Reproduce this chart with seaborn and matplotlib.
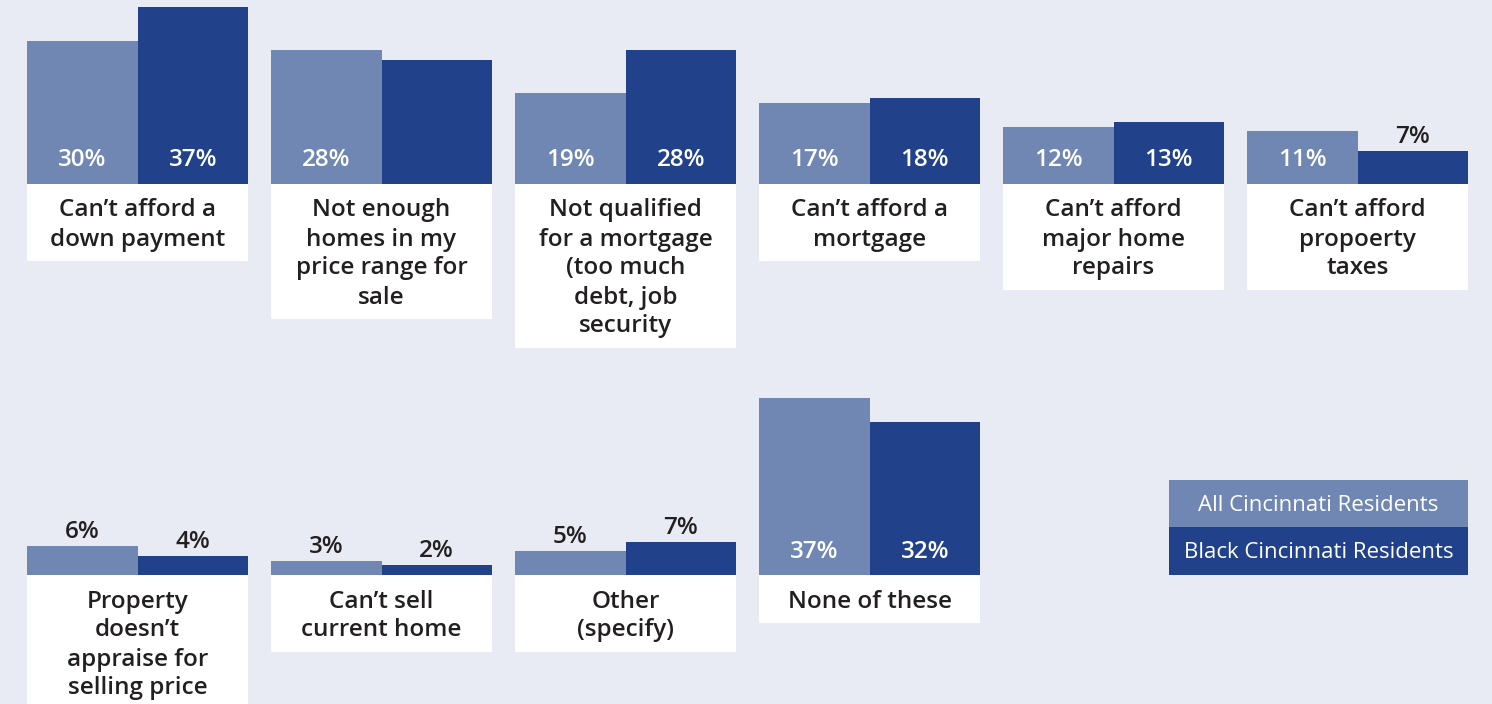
import matplotlib
matplotlib.use("Agg")
import matplotlib.pyplot as plt
from matplotlib.patches import Rectangle
import pandas as pd
import seaborn as sns

# ---- data ----
groups = ["All Cincinnati Residents", "Black Cincinnati Residents"]

reasons_top = [
    "Can’t afford a\ndown payment",
    "Not enough\nhomes in my\nprice range for\nsale",
    "Not qualified\nfor a mortgage\n(too much\ndebt, job\nsecurity",
    "Can’t afford a\nmortgage",
    "Can’t afford\nmajor home\nrepairs",
    "Can’t afford\npropoerty\ntaxes",
]
all_top = [30, 28, 19, 17, 12, 11]
black_top = [37, 26, 28, 18, 13, 7]
black_top_shown = [True, False, True, True, True, True]

reasons_bottom = [
    "Property\ndoesn’t\nappraise for\nselling price",
    "Can’t sell\ncurrent home",
    "Other\n(specify)",
    "None of these",
]
all_bottom = [6, 3, 5, 37]
black_bottom = [4, 2, 7, 32]

LIGHT = "#7087b3"
DARK = "#21418a"
BG = "#e8ebf3"
INK = "#231f20"

sns.set_theme(style="white")
plt.rcParams["font.family"] = ["Open Sans", "DejaVu Sans"]

W, H = 1492, 704
PX = 1 / 4.78          # percent per pixel
GROUP_W = 221 / 244    # width of a bar pair in category units

fig = plt.figure(figsize=(W / 100, H / 100), dpi=100, facecolor=BG)


def draw_row(ax, reasons, vals_all, vals_black, shown_black, above_px, below_px):
    df = pd.DataFrame({
        "reason": reasons * 2,
        "group": [groups[0]] * len(reasons) + [groups[1]] * len(reasons),
        "value": list(vals_all) + list(vals_black),
    })
    sns.barplot(data=df, x="reason", y="value", hue="group", order=reasons,
                hue_order=groups, palette=[LIGHT, DARK], saturation=1,
                width=GROUP_W, linewidth=0, errorbar=None, legend=False, ax=ax)

    shown = [[True] * len(reasons), shown_black]
    for ci, cont in enumerate(ax.containers):
        for bi, bar in enumerate(cont):
            if not shown[ci][bi]:
                continue
            v = bar.get_height()
            x = bar.get_x() + bar.get_width() / 2
            if v >= 10:
                ax.text(x, 23.5 * PX, f"{v:.0f}%", ha="center", va="center",
                        color="white", fontsize=17.5, fontweight="semibold")
            else:
                ax.text(x, v + 14 * PX, f"{v:.0f}%", ha="center", va="center",
                        color=INK, fontsize=17.5, fontweight="semibold")

    # white label boxes under each pair
    for i, lab in enumerate(reasons):
        lines = lab.split("\n")
        box_h = (48 + 29 * (len(lines) - 1)) * PX
        ax.add_patch(Rectangle((i - GROUP_W / 2, -box_h), GROUP_W, box_h,
                               facecolor="white", edgecolor="none"))
        for k, line in enumerate(lines):
            ax.text(i, -(26.5 + 29 * k) * PX, line, ha="center", va="center",
                    color=INK, fontsize=17.5, fontweight="semibold")

    ax.set_xlim(-137.5 / 244, (W - 137.5) / 244)
    ax.set_ylim(-below_px * PX, above_px * PX)
    ax.axis("off")


# top row: baseline at y=184 px, axes spans 0..370 px
ax1 = fig.add_axes([0, 1 - 370 / H, 1, 370 / H])
draw_row(ax1, reasons_top, all_top, black_top, black_top_shown, 184, 370 - 184)

# bottom row: baseline at y=575 px, axes spans 370..704 px
ax2 = fig.add_axes([0, 0, 1, 334 / H])
draw_row(ax2, reasons_bottom, all_bottom, black_bottom, [True] * 4,
         575 - 370, H - 575)

# legend blocks
for (y0, y1), col, name in zip([(480, 527), (527, 575)], [LIGHT, DARK], groups):
    fig.add_artist(Rectangle((1169 / W, 1 - y1 / H), 299 / W, (y1 - y0) / H,
                             transform=fig.transFigure, facecolor=col,
                             edgecolor="none"))
    fig.text(1318.5 / W, 1 - ((y0 + y1) / 2 + 2) / H, name, ha="center",
             va="center", color="white", fontsize=16)

fig.savefig("out.png", dpi=100, facecolor=BG)
